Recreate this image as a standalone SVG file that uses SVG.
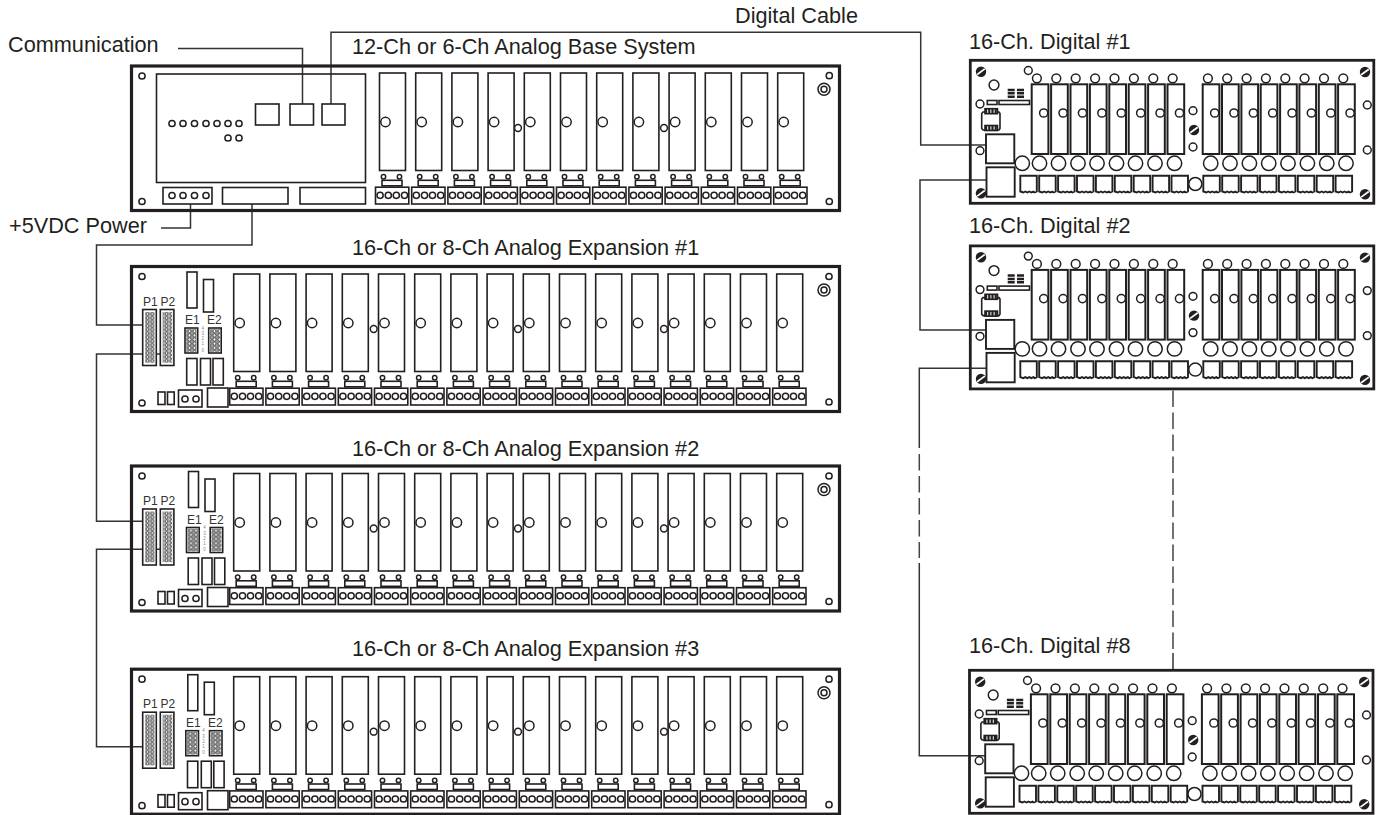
<svg xmlns="http://www.w3.org/2000/svg" width="1380" height="815" viewBox="0 0 1380 815">
<style>
text{font-family:"Liberation Sans",Arial,sans-serif;fill:#231f20}
.lbl{font-size:21.7px}
.tiny{font-size:12px;fill:#333}
.dg{font-size:4.5px;fill:#888;text-anchor:middle}
.o{fill:#fff;stroke:#231f20;stroke-width:1.6}
.n{fill:none;stroke:#231f20;stroke-width:1.6}
.c{fill:#fff;stroke:#231f20;stroke-width:1.5}
.frame{fill:none;stroke:#231f20;stroke-width:3.2}
.dframe{fill:none;stroke:#231f20;stroke-width:2.8}
.wire{fill:none;stroke:#333;stroke-width:1.5}
.dash{fill:none;stroke:#444;stroke-width:1.5;stroke-dasharray:16.5 5.5}
.t{fill:#fff;stroke:#231f20;stroke-width:1.9}
</style>
<defs>
<pattern id="pin" patternUnits="userSpaceOnUse" x="145" y="312" width="4.8" height="3.9">
<rect width="4.8" height="3.9" fill="#bbb"/>
<circle cx="2.4" cy="2" r="1.4" fill="#fff" stroke="#222" stroke-width=".8"/>
</pattern>
<pattern id="pe" patternUnits="userSpaceOnUse" x="187" y="329" width="5" height="4.2">
<rect width="5" height="4.2" fill="#999"/>
<circle cx="2.5" cy="2.1" r="1.5" fill="#fff" stroke="#222" stroke-width=".7"/>
</pattern>
<g id="am">
<rect class="o" width="26" height="97.5"/>
<circle class="c" cx="6" cy="49" r="4.7"/>
<circle class="c" cx="4" cy="103.7" r="2.2"/>
<circle class="c" cx="20" cy="103.7" r="2.2"/>
<rect class="o" x="2.5" y="107.3" width="20" height="5.5"/>
<rect class="o" x="-4" y="114.2" width="33.3" height="16.8"/>
<circle class="c" cx=".6" cy="122.3" r="3.1"/>
<circle class="c" cx="8.8" cy="122.3" r="3.1"/>
<circle class="c" cx="16.8" cy="122.3" r="3.1"/>
<circle class="c" cx="25" cy="122.3" r="3.1"/>
</g>
<g id="exp-common">
<rect class="frame" x="131.5" y="266.5" width="708" height="145"/>
<circle class="c" cx="142" cy="276.5" r="3.1"/>
<circle class="c" cx="142" cy="403" r="3.1"/>
<circle class="c" cx="829" cy="276.5" r="3.1"/>
<circle class="c" cx="824" cy="290" r="6"/>
<circle class="c" cx="824" cy="290" r="3"/>
<circle class="c" cx="829" cy="402" r="3.1"/>
<use href="#am" x="233.7" y="274"/><use href="#am" x="269.9" y="274"/><use href="#am" x="306.1" y="274"/><use href="#am" x="342.3" y="274"/>
<use href="#am" x="378.5" y="274"/><use href="#am" x="414.7" y="274"/><use href="#am" x="450.9" y="274"/><use href="#am" x="487.1" y="274"/>
<use href="#am" x="523.3" y="274"/><use href="#am" x="559.5" y="274"/><use href="#am" x="595.7" y="274"/><use href="#am" x="631.9" y="274"/>
<use href="#am" x="668.1" y="274"/><use href="#am" x="704.3" y="274"/><use href="#am" x="740.5" y="274"/><use href="#am" x="776.7" y="274"/>
<circle class="c" cx="373.7" cy="329" r="3.4"/>
<circle class="c" cx="518" cy="329" r="3.4"/>
<circle class="c" cx="664" cy="329" r="3.4"/>
<rect class="o" x="142.7" y="309.5" width="13.6" height="56"/>
<rect class="o" x="160.3" y="309.5" width="13.6" height="56"/>
<rect x="145" y="312" width="9.6" height="50.7" fill="url(#pin)"/>
<rect x="162.6" y="312" width="9.6" height="50.7" fill="url(#pin)"/>
<rect class="o" x="158" y="392" width="7" height="12.5"/>
<rect class="o" x="167.5" y="392" width="6.7" height="12.5"/>
<rect class="o" x="178.5" y="390" width="23.5" height="17"/>
<circle class="c" cx="185" cy="399" r="3.1"/>
<circle class="c" cx="196" cy="399" r="3.1"/>
<rect class="o" x="207.5" y="388" width="20.5" height="19"/>
</g>
<g id="exp-left">
<rect class="o" x="187" y="272" width="10" height="36"/>
<rect class="o" x="203.5" y="279.5" width="10" height="32.5"/>
<rect class="o" x="185" y="328" width="12.7" height="25"/>
<rect class="o" x="208.7" y="328" width="12.5" height="25"/>
<rect x="186.2" y="329.2" width="10.3" height="22.6" fill="url(#pe)"/>
<rect x="209.9" y="329.2" width="10.1" height="22.6" fill="url(#pe)"/>
<rect class="o" x="186.7" y="358.5" width="10.3" height="26.5"/>
<rect class="o" x="200.5" y="358.5" width="10" height="26.5"/>
<rect class="o" x="213" y="358.5" width="10.3" height="26.5"/>
</g>
<g id="dm">
<rect x="0" y="84.3" width="16.7" height="69.7" fill="#fff" stroke="#231f20" stroke-width="2"/>
<circle class="c" cx="12" cy="113" r="4.1"/>
<circle class="c" cx="5.2" cy="78.3" r="4.4"/>
</g>
<g id="dt">
<path class="t" d="M0 175.7H16.5V191.5l-2 1-1.5-1-2 1-2-1-2 1-2-1-2 1-3-1Z"/>
</g>
<g id="screw">
<circle r="5.2" fill="#231f20"/>
<line x1="-3.8" y1="2.8" x2="3.8" y2="-2.8" stroke="#fff" stroke-width="1.7"/>
</g>
<g id="dig">
<rect class="dframe" x="970.3" y="60.3" width="403.5" height="143"/>
<use href="#dm" x="1031.7"/><use href="#dm" x="1051.1"/><use href="#dm" x="1070.5"/><use href="#dm" x="1089.9"/>
<use href="#dm" x="1109.3"/><use href="#dm" x="1128.7"/><use href="#dm" x="1148.1"/><use href="#dm" x="1167.5"/>
<use href="#dm" x="1202.7"/><use href="#dm" x="1222"/><use href="#dm" x="1241.4"/><use href="#dm" x="1260.7"/>
<use href="#dm" x="1280.1"/><use href="#dm" x="1299.4"/><use href="#dm" x="1318.8"/><use href="#dm" x="1338.1"/>
<circle class="c" cx="1022.3" cy="163.3" r="7.2"/><circle class="c" cx="1039.5" cy="163.3" r="7.2"/><circle class="c" cx="1058.5" cy="163.3" r="7.2"/>
<circle class="c" cx="1078" cy="163.3" r="7.2"/><circle class="c" cx="1097" cy="163.3" r="7.2"/><circle class="c" cx="1116.5" cy="163.3" r="7.2"/>
<circle class="c" cx="1135.5" cy="163.3" r="7.2"/><circle class="c" cx="1155" cy="163.3" r="7.2"/><circle class="c" cx="1174.5" cy="163.3" r="7.2"/>
<circle class="c" cx="1210.7" cy="163.3" r="7.2"/><circle class="c" cx="1230" cy="163.3" r="7.2"/><circle class="c" cx="1249.4" cy="163.3" r="7.2"/>
<circle class="c" cx="1268.7" cy="163.3" r="7.2"/><circle class="c" cx="1288" cy="163.3" r="7.2"/><circle class="c" cx="1307.4" cy="163.3" r="7.2"/>
<circle class="c" cx="1326.8" cy="163.3" r="7.2"/><circle class="c" cx="1346" cy="163.3" r="7.2"/>
<use href="#dt" x="1020.3"/><use href="#dt" x="1039.2"/><use href="#dt" x="1058.1"/><use href="#dt" x="1077"/><use href="#dt" x="1095.9"/>
<use href="#dt" x="1114.8"/><use href="#dt" x="1133.7"/><use href="#dt" x="1152.6"/><use href="#dt" x="1171.5"/>
<use href="#dt" x="1203.3"/><use href="#dt" x="1222.2"/><use href="#dt" x="1241.1"/><use href="#dt" x="1260"/>
<use href="#dt" x="1278.9"/><use href="#dt" x="1297.8"/><use href="#dt" x="1316.7"/><use href="#dt" x="1335.6"/>
<circle class="c" cx="1195.3" cy="184" r="6.5"/>
<use href="#screw" x="981" y="71.7"/><use href="#screw" x="981" y="193.3"/><use href="#screw" x="1365" y="72"/><use href="#screw" x="1365" y="194.3"/><use href="#screw" x="1194" y="130"/>
<circle class="c" cx="1193" cy="110.7" r="3.9"/><circle class="c" cx="1193" cy="147" r="3.9"/>
<circle class="c" cx="1367.3" cy="105" r="3.9"/><circle class="c" cx="1367.3" cy="150" r="3.9"/>
<circle class="c" cx="1028.3" cy="70.5" r="3.9"/><circle class="c" cx="994" cy="85" r="4.9"/>
<circle class="c" cx="980" cy="104" r="3.9"/><circle class="c" cx="980" cy="150.7" r="3.9"/>
<rect class="o" x="987.3" y="100.5" width="9.7" height="4"/>
<rect class="o" x="999" y="100.5" width="30.5" height="4"/>
<line x1="1011.2" y1="88.7" x2="1011.2" y2="98" stroke="#231f20" stroke-width="7" stroke-dasharray="2.5 .9"/>
<line x1="1020.5" y1="88.7" x2="1020.5" y2="98" stroke="#231f20" stroke-width="7" stroke-dasharray="2.5 .9"/>
<path class="o" d="M983 112H999L1000 113.5V128.5L999 130H983L981.7 128.5V113.5Z"/>
<rect class="o" x="985" y="108.7" width="12.5" height="5"/>
<rect class="o" x="985" y="125.5" width="12.5" height="5"/>
<line x1="985" y1="111.2" x2="997.5" y2="111.2" stroke="#231f20" stroke-width="5" stroke-dasharray="2.2 1"/>
<line x1="985" y1="128" x2="997.5" y2="128" stroke="#231f20" stroke-width="5" stroke-dasharray="2.2 1"/>
<rect class="t" x="986" y="134.3" width="28.3" height="29"/>
<rect class="t" x="986.5" y="167.3" width="28.2" height="29.4"/>
</g>
</defs>
<rect width="1380" height="815" fill="#fff"/>
<g id="connectors">
<path class="wire" d="M178 48.5H302.5V104"/>
<path class="wire" d="M331 104V32.3H920.7V145H986"/>
<path class="wire" d="M161 228H190.5V204"/>
<path class="wire" d="M252 204V245H96.5V325H143"/>
<path class="wire" d="M161 354H96.5V521.3H143"/>
<path class="wire" d="M161 549.3H96.5V746.7H143"/>
<path class="wire" d="M986 180H920V330H986.5"/>
<path class="wire" d="M986.5 368.3H919.3V448"/>
<path class="dash" d="M919.3 454V558"/>
<path class="wire" d="M919.3 563V755.7H985.5"/>
<path class="dash" d="M1173 390.5V650"/>
<path class="wire" d="M1173 653V670"/>
</g>
<g id="label-communication"><text class="lbl" x="8" y="52">Communication</text></g>
<g id="label-power"><text class="lbl" x="9" y="232.500">+5VDC Power</text></g>
<g id="label-cable"><text class="lbl" x="735" y="23">Digital Cable</text></g>
<g id="node-base">
<text class="lbl" x="352" y="54">12-Ch or 6-Ch Analog Base System</text>
<rect class="frame" x="131.500" y="66" width="708" height="144.500"/>
<circle class="c" cx="142" cy="76" r="3.100"/><circle class="c" cx="142" cy="201.500" r="3.100"/>
<circle class="c" cx="829.300" cy="75.700" r="3.100"/><circle class="c" cx="824" cy="89.300" r="6"/><circle class="c" cx="824" cy="89.300" r="3"/><circle class="c" cx="829.300" cy="201.500" r="3.100"/>
<rect class="n" x="156.500" y="74" width="209" height="108.500"/>
<circle class="c" cx="172" cy="123.500" r="3.100"/><circle class="c" cx="183" cy="123.500" r="3.100"/><circle class="c" cx="194.500" cy="123.500" r="3.100"/><circle class="c" cx="206" cy="123.500" r="3.100"/><circle class="c" cx="217" cy="123.500" r="3.100"/><circle class="c" cx="228" cy="123.500" r="3.100"/><circle class="c" cx="239" cy="123.500" r="3.100"/>
<circle class="c" cx="228" cy="138" r="3.100"/><circle class="c" cx="239" cy="138" r="3.100"/>
<rect class="o" x="255.500" y="104" width="23.500" height="21"/>
<rect class="o" x="290" y="104" width="23.500" height="21"/>
<rect class="o" x="322" y="104" width="23" height="21"/>
<rect class="o" x="163" y="187.500" width="49" height="16.500"/>
<circle class="c" cx="172" cy="195.500" r="3.100"/><circle class="c" cx="183" cy="195.500" r="3.100"/><circle class="c" cx="194.500" cy="195.500" r="3.100"/><circle class="c" cx="206" cy="195.500" r="3.100"/>
<rect class="o" x="222.500" y="187.500" width="65.500" height="16.500"/>
<rect class="o" x="300" y="187.500" width="65.500" height="16.500"/>
<use href="#am" x="379.5" y="73"/><use href="#am" x="415.7" y="73"/><use href="#am" x="451.9" y="73"/><use href="#am" x="488.1" y="73"/>
<use href="#am" x="524.3" y="73"/><use href="#am" x="560.5" y="73"/><use href="#am" x="596.7" y="73"/><use href="#am" x="632.9" y="73"/>
<use href="#am" x="669.1" y="73"/><use href="#am" x="705.3" y="73"/><use href="#am" x="741.5" y="73"/><use href="#am" x="777.7" y="73"/>
<circle class="c" cx="518" cy="128" r="3.4"/><circle class="c" cx="664" cy="128" r="3.4"/>
</g>
<g id="node-exp1">
<text class="lbl" x="352" y="255">16-Ch or 8-Ch Analog Expansion #1</text>
<use href="#exp-common"/><use href="#exp-left"/>
<text class="tiny" x="143" y="305.500">P1</text><text class="tiny" x="160.500" y="305.500">P2</text>
<text class="tiny" x="185" y="324">E1</text><text class="tiny" x="207" y="324">E2</text>
<text class="dg" x="202.700" y="329.500">4</text><text class="dg" x="202.700" y="335">3</text><text class="dg" x="202.700" y="340">2</text><text class="dg" x="202.700" y="345">1</text><text class="dg" x="202.700" y="351.500">0</text>
</g>
<g id="node-exp2" transform="translate(0,199.5)">
<text class="lbl" x="352" y="256.500">16-Ch or 8-Ch Analog Expansion #2</text>
<use href="#exp-common"/><use href="#exp-left" x="1.5"/>
<text class="tiny" x="143" y="305.500">P1</text><text class="tiny" x="160.500" y="305.500">P2</text>
<text class="tiny" x="187" y="324">E1</text><text class="tiny" x="209" y="324">E2</text>
<text class="dg" x="204.500" y="329.500">4</text><text class="dg" x="204.500" y="335">3</text><text class="dg" x="204.500" y="340">2</text><text class="dg" x="204.500" y="345">1</text><text class="dg" x="204.500" y="351.500">0</text>
</g>
<g id="node-exp3" transform="translate(0,402.7)">
<text class="lbl" x="352" y="253.300">16-Ch or 8-Ch Analog Expansion #3</text>
<use href="#exp-common"/><use href="#exp-left" x=".8"/>
<text class="tiny" x="143" y="305.500">P1</text><text class="tiny" x="160.500" y="305.500">P2</text>
<text class="tiny" x="186" y="324">E1</text><text class="tiny" x="208" y="324">E2</text>
<text class="dg" x="203.500" y="329.500">4</text><text class="dg" x="203.500" y="335">3</text><text class="dg" x="203.500" y="340">2</text><text class="dg" x="203.500" y="345">1</text><text class="dg" x="203.500" y="351.500">0</text>
</g>
<g id="node-digital1">
<text class="lbl" x="969" y="49">16-Ch. Digital #1</text>
<use href="#dig"/>
</g>
<g id="node-digital2" transform="translate(0,185.6)">
<text class="lbl" x="969" y="47.400">16-Ch. Digital #2</text>
<use href="#dig"/>
</g>
<g id="node-digital8" transform="translate(-.8,610)">
<text class="lbl" x="969.800" y="43">16-Ch. Digital #8</text>
<use href="#dig"/>
</g>
</svg>
